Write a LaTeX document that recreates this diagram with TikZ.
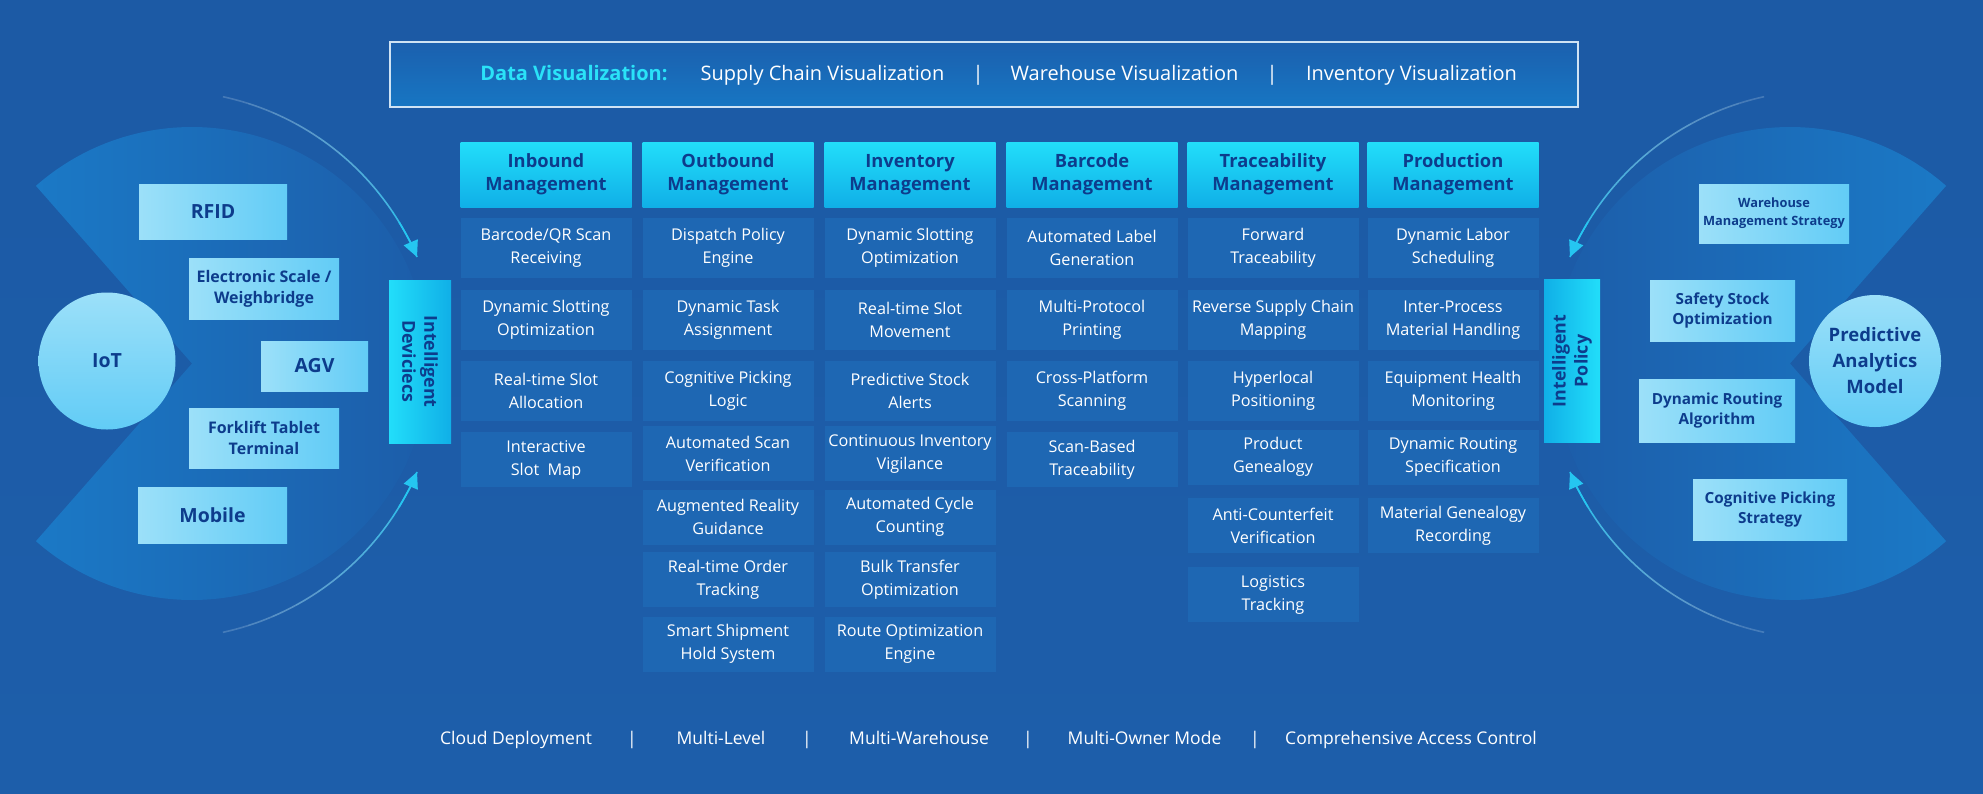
\documentclass[tikz,border=0pt]{standalone}
\usepackage{fontspec}
\setmainfont{Open Sans}
\usetikzlibrary{arrows.meta}
\definecolor{bgtop}{HTML}{1C5AA5}
\definecolor{bgbot}{HTML}{1D5EAA}
\definecolor{bgblue}{HTML}{1C5BA7}
\definecolor{cellblue}{HTML}{1E67B3}
\definecolor{headtop}{HTML}{22DEFA}
\definecolor{headbot}{HTML}{10AFE7}
\definecolor{inknavy}{HTML}{0D3C8C}
\definecolor{paletop}{HTML}{9CE0F9}
\definecolor{palebot}{HTML}{62CCF6}
\definecolor{fanblue}{HTML}{1B79C6}
\definecolor{arccyan}{HTML}{25C6F1}
\definecolor{barline}{HTML}{CFE3F4}
\definecolor{bartop}{HTML}{1B60AE}
\definecolor{barbot}{HTML}{1776C3}
\definecolor{dvcyan}{HTML}{2AE2F8}

\begin{document}
\begin{tikzpicture}[x=1pt, y=1pt,
    head/.style={rectangle, minimum width=171, minimum height=65, inner sep=0pt,
        top color=headtop, bottom color=headbot, text=inknavy, align=center,
        font=\fontsize{18.3}{23}\selectfont\bfseries},
    cell/.style={rectangle, minimum width=171, minimum height=60, inner sep=0pt,
        fill=cellblue, text=white, align=center, font=\fontsize{16.2}{23}\selectfont},
    low/.style={cell, minimum height=55},
    dev/.style={rectangle, inner sep=0pt, left color=paletop, right color=palebot,
        text=inknavy, align=center, font=\fontsize{16}{21}\selectfont\bfseries},
    big/.style={font=\fontsize{19.5}{24}\selectfont\bfseries},
    rdev/.style={dev, font=\fontsize{15.3}{20.5}\selectfont\bfseries},
    hub/.style={circle, inner sep=0pt, top color=paletop, bottom color=palebot,
        text=inknavy, align=center},
    side/.style={rectangle, minimum width=163, inner sep=0pt, text=inknavy, align=center,
        font=\fontsize{17.8}{22}\selectfont\bfseries},
    bar/.style={rectangle, draw=barline, line width=1.2pt, top color=bartop, bottom color=barbot,
        minimum width=1188, minimum height=65, inner sep=0pt},
    bartxt/.style={inner sep=0pt, text height=15, text depth=4, text=white,
        font=\fontsize{20}{24}\selectfont},
    foot/.style={inner sep=0pt, text height=13, text depth=4, text=white,
        font=\fontsize{17.5}{21}\selectfont},
    arcline/.style={line width=1.6pt},
    tip/.style={-{Triangle[length=16pt, width=15pt]}, line width=1.6pt, arccyan}
]
    \useasboundingbox (0,0) rectangle (1983,-793);
    \shade[top color=bgtop, bottom color=bgbot] (0,0) rectangle (1983,-793);

    % === side fans ===
    \coordinate (lfan) at (192,-363.5);
    \coordinate (rfan) at (1790,-363.5);
    \shade[left color=fanblue, right color=bgblue]
        (lfan) -- ++(131.3:236.5) arc[start angle=131.3, end angle=-131.3, radius=236.5] -- cycle;
    \shade[left color=bgblue, right color=fanblue]
        (rfan) -- ++(48.7:236.5) arc[start angle=48.7, end angle=311.3, radius=236.5] -- cycle;

    % === thin arcs into the side boxes ===
    \coordinate (larc) at (165,-364.5);
    \coordinate (rarc) at (1822,-364.5);
    \foreach \ctr/\sa/\ea in {larc/77.8/23.1, larc/-77.8/-23.1, rarc/102.2/156.9, rarc/-102.2/-156.9} {
        \foreach \i in {0,...,9} {
            \pgfmathsetmacro\angA{\sa+(\ea-\sa)*\i/10}
            \pgfmathsetmacro\angB{\sa+(\ea-\sa)*(\i+1)/10}
            \pgfmathtruncatemacro\pct{10*\i+10}
            \pgfmathsetmacro\op{0.2+0.08*\i}
            \draw[arcline, draw=arccyan!\pct!white, draw opacity=\op]
                ([shift={(\angA:274)}]\ctr) arc[start angle=\angA, end angle=\angB, radius=274];
        }
        \pgfmathsetmacro\angA{\sa+(\ea-\sa)*0.85}
        \draw[tip] ([shift={(\angA:274)}]\ctr) arc[start angle=\angA, end angle=\ea, radius=274];
    }

    % === top bar ===
    \node[bar] (dvbar) at (984,-74.5) {};
    \node[bartxt, text=dvcyan, font=\fontsize{20}{24}\selectfont\bfseries] (dvlbl) at (574,-75) {Data Visualization:};
    \node[bartxt] (dvsc) at (822.5,-75) {Supply Chain Visualization};
    \node[bartxt] (dvsep1) at (978,-75) {|};
    \node[bartxt] (dvwh) at (1124.5,-75) {Warehouse Visualization};
    \node[bartxt] (dvsep2) at (1272,-75) {|};
    \node[bartxt] (dvinv) at (1411.5,-75) {Inventory Visualization};

    % === left: IoT devices ===
    \node[hub, minimum size=137, font=\fontsize{19.5}{24}\selectfont\bfseries] (iot) at (107,-361) {IoT};
    \node[dev, big, minimum width=148, minimum height=55] (rfid) at (213,-211.5) {RFID};
    \node[dev, minimum width=150, minimum height=61] (scale) at (264,-288.5) {Electronic Scale /\\Weighbridge};
    \node[dev, big, minimum width=107, minimum height=50] (agv) at (314.5,-366) {AGV};
    \node[dev, minimum width=150, minimum height=60] (fork) at (264,-438) {Forklift Tablet\\Terminal};
    \node[dev, big, minimum width=149, minimum height=56] (mobile) at (212.5,-515) {Mobile};
    \node[side, minimum height=62, rotate=-90, left color=headtop, right color=headbot] (idev) at (420,-361.5) {Intelligent\\Deviciecs};

    % === column 1: inbound ===
    \node[head] (hin) at (546,-174.5) {Inbound\\Management};
    \node[cell] (in1) at (546,-248) {Barcode/QR Scan\\Receiving};
    \node[cell] (in2) at (546,-320) {Dynamic Slotting\\Optimization};
    \node[cell] (in3) at (546,-391) {Real-time Slot\\Allocation};
    \node[low]  (in4) at (546,-459.5) {Interactive\\Slot\ \ Map};

    % === column 2: outbound ===
    \node[head] (hout) at (728,-174.5) {Outbound\\Management};
    \node[cell] (out1) at (728,-248) {Dispatch Policy\\Engine};
    \node[cell] (out2) at (728,-320) {Dynamic Task\\Assignment};
    \node[cell] (out3) at (728,-391) {Cognitive Picking\\Logic};
    \node[low]  (out4) at (728,-453.5) {Automated Scan\\Verification};
    \node[low]  (out5) at (728,-517) {Augmented Reality\\Guidance};
    \node[low]  (out6) at (728,-579.5) {Real-time Order\\Tracking};
    \node[low]  (out7) at (728,-644) {Smart Shipment\\Hold System};

    % === column 3: inventory ===
    \node[head] (hinv) at (910,-174.5) {Inventory\\Management};
    \node[cell] (inv1) at (910,-248) {Dynamic Slotting\\Optimization};
    \node[cell] (inv2) at (910,-320) {Real-time Slot\\Movement};
    \node[cell] (inv3) at (910,-391) {Predictive Stock\\Alerts};
    \node[low]  (inv4) at (910,-453.5) {Continuous Inventory\\Vigilance};
    \node[low]  (inv5) at (910,-517) {Automated Cycle\\Counting};
    \node[low]  (inv6) at (910,-579.5) {Bulk Transfer\\Optimization};
    \node[low]  (inv7) at (910,-644) {Route Optimization\\Engine};

    % === column 4: barcode ===
    \node[head] (hbar) at (1092,-174.5) {Barcode\\Management};
    \node[cell] (bar1) at (1092,-248) {Automated Label\\Generation};
    \node[cell] (bar2) at (1092,-320) {Multi-Protocol\\Printing};
    \node[cell] (bar3) at (1092,-391) {Cross-Platform\\Scanning};
    \node[low]  (bar4) at (1092,-459.5) {Scan-Based\\Traceability};

    % === column 5: traceability ===
    \node[head] (htr) at (1273,-174.5) {Traceability\\Management};
    \node[cell] (tr1) at (1273,-248) {Forward\\Traceability};
    \node[cell] (tr2) at (1273,-320) {Reverse Supply Chain\\Mapping};
    \node[cell] (tr3) at (1273,-391) {Hyperlocal\\Positioning};
    \node[low]  (tr4) at (1273,-457) {Product\\Genealogy};
    \node[low]  (tr5) at (1273,-525.5) {Anti-Counterfeit\\Verification};
    \node[low]  (tr6) at (1273,-594.5) {Logistics\\Tracking};

    % === column 6: production ===
    \node[head] (hpr) at (1453,-174.5) {Production\\Management};
    \node[cell] (pr1) at (1453,-248) {Dynamic Labor\\Scheduling};
    \node[cell] (pr2) at (1453,-320) {Inter-Process\\Material Handling};
    \node[cell] (pr3) at (1453,-391) {Equipment Health\\Monitoring};
    \node[low]  (pr4) at (1453,-457) {Dynamic Routing\\Specification};
    \node[low]  (pr5) at (1453,-525.5) {Material Genealogy\\Recording};

    % === right: policy side ===
    \node[side, minimum height=56, rotate=90, left color=headbot, right color=headtop] (ipol) at (1572,-361) {Intelligent\\Policy};
    \node[rdev, minimum width=150, minimum height=59, font=\fontsize{12.8}{18}\selectfont\bfseries] (wms) at (1774,-213.5) {Warehouse\\Management Strategy};
    \node[rdev, minimum width=145, minimum height=61] (safety) at (1722.5,-310.5) {Safety Stock\\Optimization};
    \node[rdev, minimum width=156, minimum height=63] (route) at (1717,-410.5) {Dynamic Routing\\Algorithm};
    \node[rdev, minimum width=154, minimum height=61] (pick) at (1770,-509.5) {Cognitive Picking\\Strategy};
    \node[hub, minimum size=132, font=\fontsize{18.5}{26}\selectfont\bfseries] (pam) at (1875,-361) {Predictive\\Analytics\\Model};

    % === footer ===
    \foreach \xx/\lbl [count=\k] in {516/Cloud Deployment, 632/|, 721/Multi-Level, 807/|,
            919/Multi-Warehouse, 1028/|, 1144.5/Multi-Owner Mode, 1255/|, 1411/Comprehensive Access Control}
        \node[foot] (foot\k) at (\xx,-740) {\lbl};
\end{tikzpicture}
\end{document}
